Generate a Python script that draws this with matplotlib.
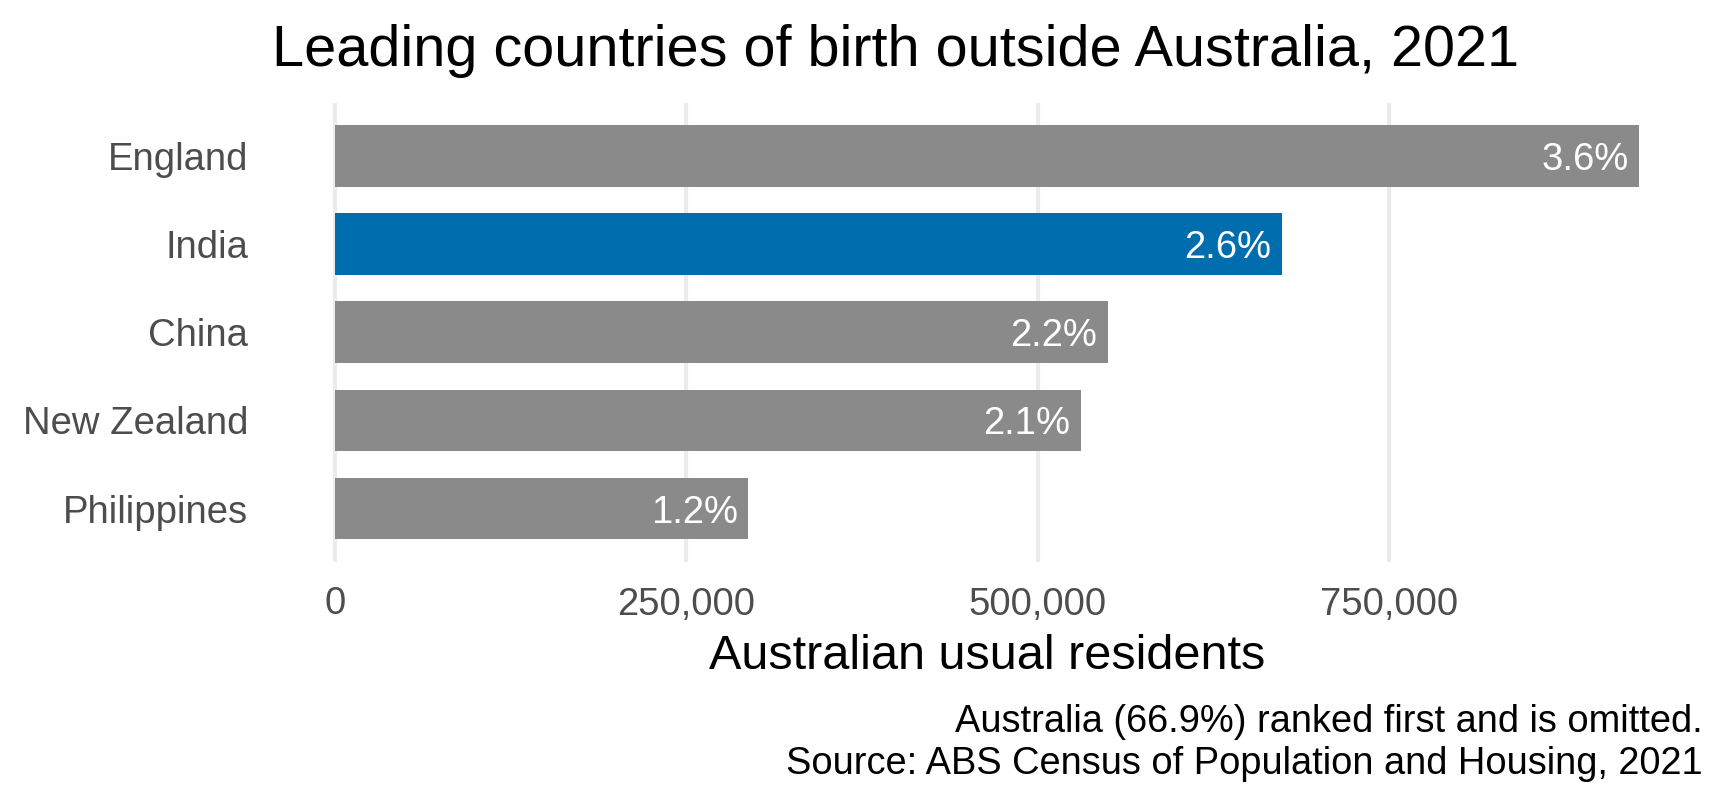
import numpy as np
import matplotlib
matplotlib.use("Agg")
import matplotlib.pyplot as plt
from matplotlib.ticker import FuncFormatter

plt.rcParams['font.family'] = ['Liberation Sans', 'DejaVu Sans']

countries = ['England', 'India', 'China', 'New Zealand', 'Philippines']
residents = [927490, 673352, 549618, 530491, 293892]
pct_labels = ['3.6%', '2.6%', '2.2%', '2.1%', '1.2%']
highlight = 'India'

bar_grey = '#8A8A8A'
bar_blue = '#006DAE'
grid_col = '#EBEBEB'
text_grey = '#4D4D4D'

W, H = 1728, 806
fig = plt.figure(figsize=(W / 100, H / 100), dpi=100)
ax = fig.add_axes([269.8 / W, 1 - 561.5 / H, (1704 - 269.8) / W, (561.5 - 103) / H])

ypos = np.arange(len(countries))
colors = [bar_blue if c == highlight else bar_grey for c in countries]
ax.barh(ypos, residents, height=0.7, color=colors, zorder=2)

for y, v, lab in zip(ypos, residents, pct_labels):
    ax.annotate(lab, xy=(v, y), xytext=(-7.5, 0), textcoords='offset points',
                ha='right', va='center_baseline', color='white', fontsize=27.5, zorder=3)

vmax = max(residents)
ax.set_xlim(-0.05 * vmax, 1.05 * vmax)
ax.set_ylim(len(countries) - 0.4, -0.6)

ax.set_xticks([0, 250000, 500000, 750000])
ax.xaxis.set_major_formatter(FuncFormatter(lambda x, p: f'{int(x):,}'))
ax.set_yticks(ypos)
ax.set_yticklabels(countries)
ax.tick_params(axis='x', length=0, pad=18, labelsize=27.5, labelcolor=text_grey)
ax.tick_params(axis='y', length=0, pad=15.5, labelsize=27.5, labelcolor=text_grey)

ax.grid(axis='x', color=grid_col, linewidth=3, zorder=0)
ax.grid(axis='y', visible=False)
for s in ax.spines.values():
    s.set_visible(False)

fig.text(896 / W, 1 - 66 / H, 'Leading countries of birth outside Australia, 2021',
         ha='center', va='baseline', fontsize=41.5)
fig.text(987 / W, 1 - 669 / H, 'Australian usual residents',
         ha='center', va='baseline', fontsize=35)
fig.text(1703 / W, 1 - 732 / H, 'Australia (66.9%) ranked first and is omitted.',
         ha='right', va='baseline', fontsize=27.4)
fig.text(1703 / W, 1 - 774 / H, 'Source: ABS Census of Population and Housing, 2021',
         ha='right', va='baseline', fontsize=27.4)

fig.savefig('out.png', dpi=100, facecolor='white')
